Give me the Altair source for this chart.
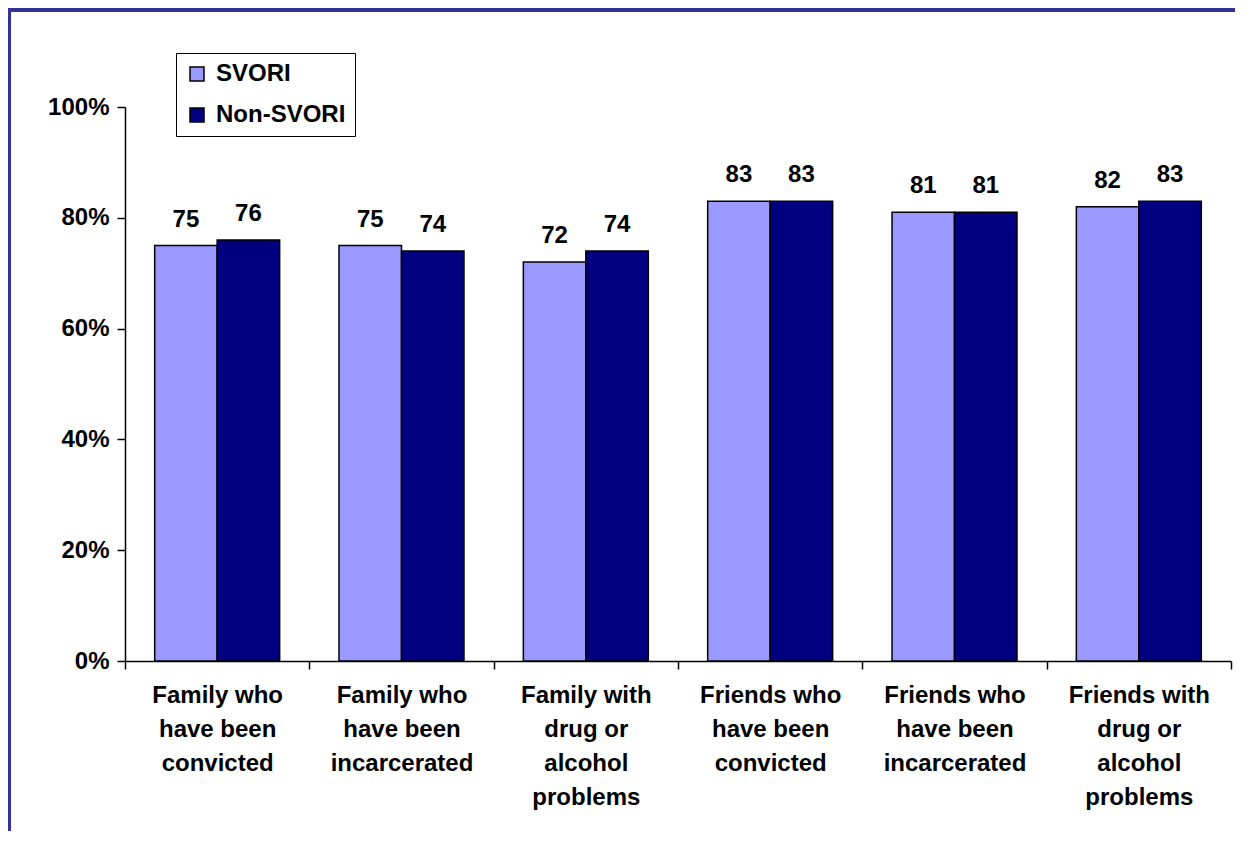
import altair as alt
import pandas as pd

categories = [
    "Family who|have been|convicted",
    "Family who|have been|incarcerated",
    "Family with|drug or|alcohol|problems",
    "Friends who|have been|convicted",
    "Friends who|have been|incarcerated",
    "Friends with|drug or|alcohol|problems",
]
series_names = ["SVORI", "Non-SVORI"]
svori = [75, 75, 72, 83, 81, 82]
non_svori = [76, 74, 74, 83, 81, 83]
y_ticks = [0, 20, 40, 60, 80, 100]
colors = ["#9999FF", "#000080"]

rows = []
for c, a, b in zip(categories, svori, non_svori):
    rows.append({"category": c, "series": "SVORI", "value": a})
    rows.append({"category": c, "series": "Non-SVORI", "value": b})
df = pd.DataFrame(rows)

FONT = "Liberation Sans"
FS = 24

x_enc = alt.X(
    "category:N",
    sort=categories,
    scale=alt.Scale(paddingInner=0, paddingOuter=0),
    axis=alt.Axis(
        title=None,
        labelAngle=0,
        labelExpr="split(datum.label, '|')",
        labelFont=FONT,
        labelFontSize=FS,
        labelFontWeight="bold",
        labelColor="black",
        labelLineHeight=34,
        labelPadding=14,
        labelBaseline="top",
        tickBand="extent",
        tickSize=8,
        tickColor="black",
        domainColor="black",
        domainWidth=1.5,
        tickWidth=1.5,
        labelLimit=400,
    ),
)
xoff = alt.XOffset(
    "series:N",
    sort=series_names,
    scale=alt.Scale(paddingOuter=0.475, paddingInner=0),
)
y_enc = alt.Y(
    "value:Q",
    scale=alt.Scale(domain=[0, 100], nice=False),
    axis=alt.Axis(
        title=None,
        values=y_ticks,
        labelExpr="datum.value + '%'",
        labelFont=FONT,
        labelFontSize=FS,
        labelFontWeight="bold",
        labelColor="black",
        labelPadding=8,
        tickSize=8,
        tickColor="black",
        domainColor="black",
        domainWidth=1.5,
        tickWidth=1.5,
        grid=False,
    ),
)

bars = alt.Chart(df).mark_bar(stroke="black", strokeWidth=1.5).encode(
    x=x_enc,
    xOffset=xoff,
    y=y_enc,
    color=alt.Color(
        "series:N",
        sort=series_names,
        scale=alt.Scale(domain=series_names, range=colors),
        legend=alt.Legend(
            title=None,
            orient="none",
            legendX=51,
            legendY=-54,
            strokeColor="black",
            fillColor="white",
            padding=9,
            symbolType="square",
            symbolSize=196,
            symbolStrokeColor="black",
            symbolStrokeWidth=1.5,
            labelFont=FONT,
            labelFontSize=FS,
            labelFontWeight="bold",
            labelColor="black",
            labelOffset=7,
            rowPadding=17,
            labelLimit=300,
        ),
    ),
)

labels = alt.Chart(df).mark_text(
    font=FONT, fontSize=FS, fontWeight="bold", color="black",
    baseline="alphabetic", dy=-19,
).encode(
    x=alt.X("category:N", sort=categories),
    xOffset=xoff,
    y=alt.Y("value:Q"),
    text=alt.Text("value:Q"),
)

frame_color = "#333399"
frame_top = alt.Chart(df).mark_rule(color=frame_color, strokeWidth=4, clip=False).encode(
    x=alt.value(-118), x2=alt.value(1120), y=alt.value(-97)
)
frame_left = alt.Chart(df).mark_rule(color=frame_color, strokeWidth=4, clip=False).encode(
    x=alt.value(-116), y=alt.value(-99), y2=alt.value(740)
)

chart = (
    alt.layer(bars, labels, frame_top, frame_left)
    .properties(
        width=1106,
        height=554,
        background="white",
        autosize=alt.AutoSizeParams(type="none"),
        padding={"left": 117, "top": 99, "right": 4, "bottom": 170},
    )
    .configure_view(stroke="transparent", strokeWidth=0)
)

chart.save("out.html", embed_options={"renderer": "svg", "actions": False})
